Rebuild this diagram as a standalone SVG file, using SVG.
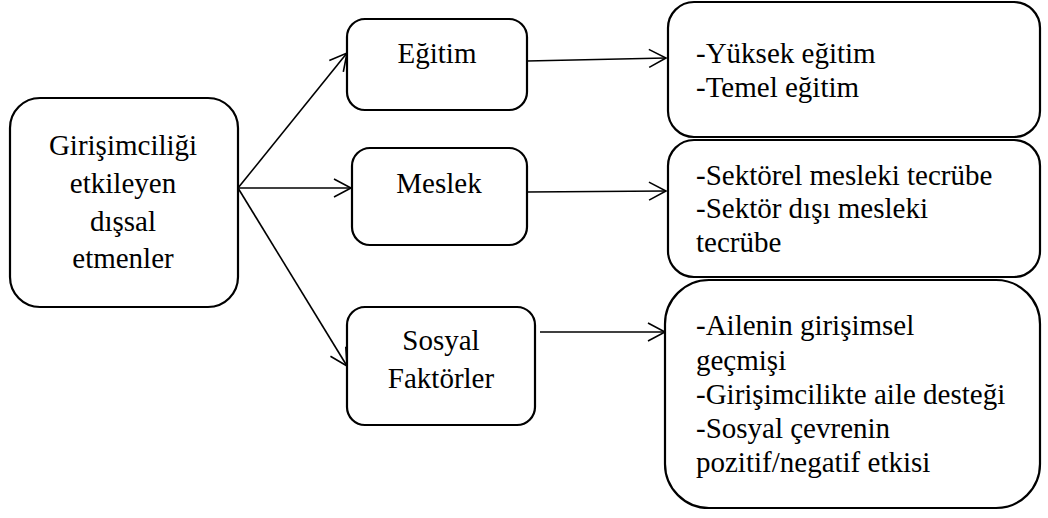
<svg xmlns="http://www.w3.org/2000/svg" width="1048" height="518" viewBox="0 0 1048 518">
<style>
.box{fill:#fff;stroke:#000;stroke-width:2.2}
.t{font-family:"Liberation Serif","Times New Roman",serif;font-size:29px;fill:#000}
.c{text-anchor:middle}
.ln{fill:none;stroke:#000;stroke-width:1.6}
</style>
<defs>
<marker id="ah" markerUnits="userSpaceOnUse" markerWidth="22" markerHeight="22" refX="18" refY="10" orient="auto" overflow="visible">
<path d="M1,1 L18,10 L1,19" fill="none" stroke="#000" stroke-width="1.6"/>
</marker>
</defs>
<rect width="1048" height="518" fill="#fff"/>
<g id="connectors">
<line class="ln" x1="238" y1="188" x2="347" y2="53" marker-end="url(#ah)"/>
<line class="ln" x1="238" y1="188" x2="351" y2="188" marker-end="url(#ah)"/>
<line class="ln" x1="238" y1="188" x2="347" y2="366" marker-end="url(#ah)"/>
<line class="ln" x1="527" y1="61" x2="666" y2="58" marker-end="url(#ah)"/>
<line class="ln" x1="527" y1="192" x2="666" y2="191" marker-end="url(#ah)"/>
<line class="ln" x1="540" y1="332" x2="665" y2="332" marker-end="url(#ah)"/>
</g>
<g id="root">
<rect class="box" x="10" y="98" width="228" height="209" rx="30"/>
<text class="t c" x="123" y="155">Girişimciliği</text>
<text class="t c" x="123" y="193">etkileyen</text>
<text class="t c" x="123" y="231">dışsal</text>
<text class="t c" x="123" y="268">etmenler</text>
</g>
<g id="egitim">
<rect class="box" x="347" y="19" width="180" height="91" rx="18"/>
<text class="t c" x="437" y="63">Eğitim</text>
</g>
<g id="meslek">
<rect class="box" x="352" y="148" width="175" height="97" rx="18"/>
<text class="t c" x="439" y="193">Meslek</text>
</g>
<g id="sosyal">
<rect class="box" x="347" y="307" width="188" height="118" rx="18"/>
<text class="t c" x="441" y="350">Sosyal</text>
<text class="t c" x="441" y="388">Faktörler</text>
</g>
<g id="egitim-detail">
<rect class="box" x="668" y="2" width="372" height="135" rx="26"/>
<text class="t" x="696" y="63">-Yüksek eğitim</text>
<text class="t" x="696" y="97">-Temel eğitim</text>
</g>
<g id="meslek-detail">
<rect class="box" x="668" y="140" width="372" height="137" rx="26"/>
<text class="t" x="696" y="185">-Sektörel mesleki tecrübe</text>
<text class="t" x="696" y="218">-Sektör dışı mesleki</text>
<text class="t" x="696" y="252">tecrübe</text>
</g>
<g id="sosyal-detail">
<rect class="box" x="665" y="280" width="375" height="228" rx="44"/>
<text class="t" x="696" y="335">-Ailenin girişimsel</text>
<text class="t" x="696" y="370">geçmişi</text>
<text class="t" x="696" y="404">-Girişimcilikte aile desteği</text>
<text class="t" x="696" y="438">-Sosyal çevrenin</text>
<text class="t" x="696" y="472">pozitif/negatif etkisi</text>
</g>
</svg>
